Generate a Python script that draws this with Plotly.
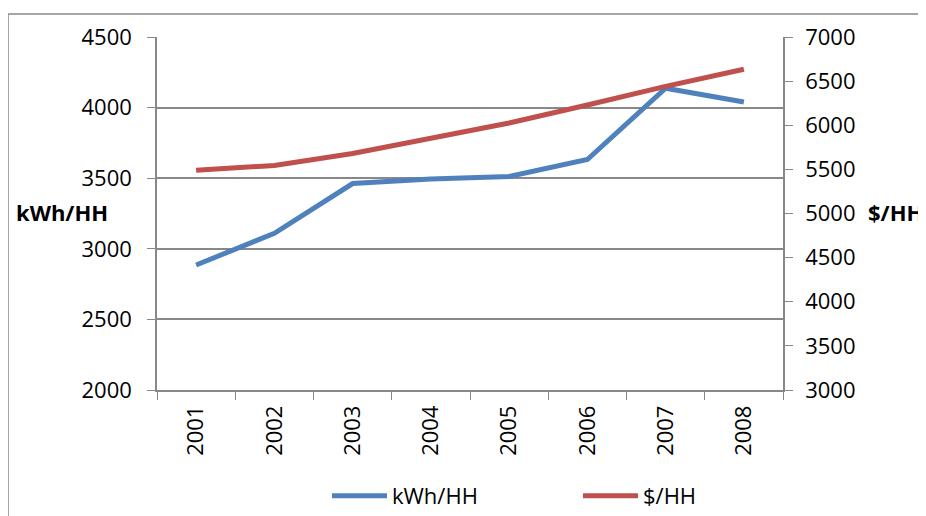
import plotly.graph_objects as go

years = ["2001", "2002", "2003", "2004", "2005", "2006", "2007", "2008"]
kwh_hh = [2885, 3110, 3462, 3495, 3512, 3632, 4137, 4040]
usd_hh = [5490, 5545, 5680, 5850, 6025, 6230, 6440, 6635]

OFF = 8  # page body margin
W, H = 926 - OFF, 516 - OFF
L, R, T, B = 157 - OFF, 783 - OFF, 37 - OFF, 390 - OFF

FONT = "Open Sans"
grey = "#888888"

fig = go.Figure()
fig.add_trace(go.Scatter(x=years, y=kwh_hh, name="kWh/HH", mode="lines",
                         line=dict(color="#4F81BD", width=5), yaxis="y"))
fig.add_trace(go.Scatter(x=years, y=usd_hh, name="$/HH", mode="lines",
                         line=dict(color="#C0504D", width=5), yaxis="y2"))

def px_x(p):
    return (p - OFF - L) / (R - L)

def px_y(p):
    return (B - (p - OFF)) / (B - T)

fig.update_layout(
    width=W, height=H,
    margin=dict(l=L, r=W - R, t=T, b=H - B, pad=0, autoexpand=False),
    paper_bgcolor="white", plot_bgcolor="white",
    font=dict(family=FONT, size=22, color="black"),
    showlegend=True,
    xaxis=dict(type="category", tickson="boundaries", ticks="outside", ticklen=8,
               range=[-0.5, len(years) - 0.5], automargin=False,
               tickcolor=grey, showgrid=False, showline=True, linecolor=grey, linewidth=1.5,
               tickangle=-90, tickfont=dict(size=22), ticklabelstandoff=5, fixedrange=True),
    yaxis=dict(range=[2000, 4500], dtick=500, ticks="outside", ticklen=8, tickcolor=grey,
               showgrid=True, gridcolor=grey, gridwidth=1.5, showline=True, linecolor=grey,
               linewidth=1.5, zeroline=False, ticklabelstandoff=11, automargin=False),
    yaxis2=dict(range=[3000, 7000], dtick=500, overlaying="y", side="right",
                ticks="outside", ticklen=8, tickcolor=grey, showgrid=False,
                showline=True, linecolor=grey, linewidth=1.5, zeroline=False,
                ticklabelstandoff=8, automargin=False),
    legend=dict(orientation="h", x=px_x(327), xanchor="left", y=px_y(496), yanchor="middle",
                entrywidth=181, entrywidthmode="pixels", itemwidth=55,
                font=dict(size=22), bgcolor="rgba(0,0,0,0)"),
    annotations=[
        dict(text="<b>kWh/HH</b>", xref="paper", yref="paper", x=px_x(14), y=px_y(212),
             xanchor="left", yanchor="middle", showarrow=False, font=dict(size=22)),
        dict(text="<b>$/HH</b>", xref="paper", yref="paper", x=px_x(866), y=px_y(212),
             xanchor="left", yanchor="middle", showarrow=False, font=dict(size=22)),
    ],
    shapes=[
        dict(type="line", xref="paper", yref="paper", x0=px_x(8), x1=px_x(930),
             y0=px_y(14), y1=px_y(14), line=dict(color=grey, width=1.5)),
        dict(type="line", xref="paper", yref="paper", x0=px_x(8), x1=px_x(8),
             y0=px_y(14), y1=px_y(520), line=dict(color=grey, width=1.5)),
    ],
)

fig.write_html("out.html")
